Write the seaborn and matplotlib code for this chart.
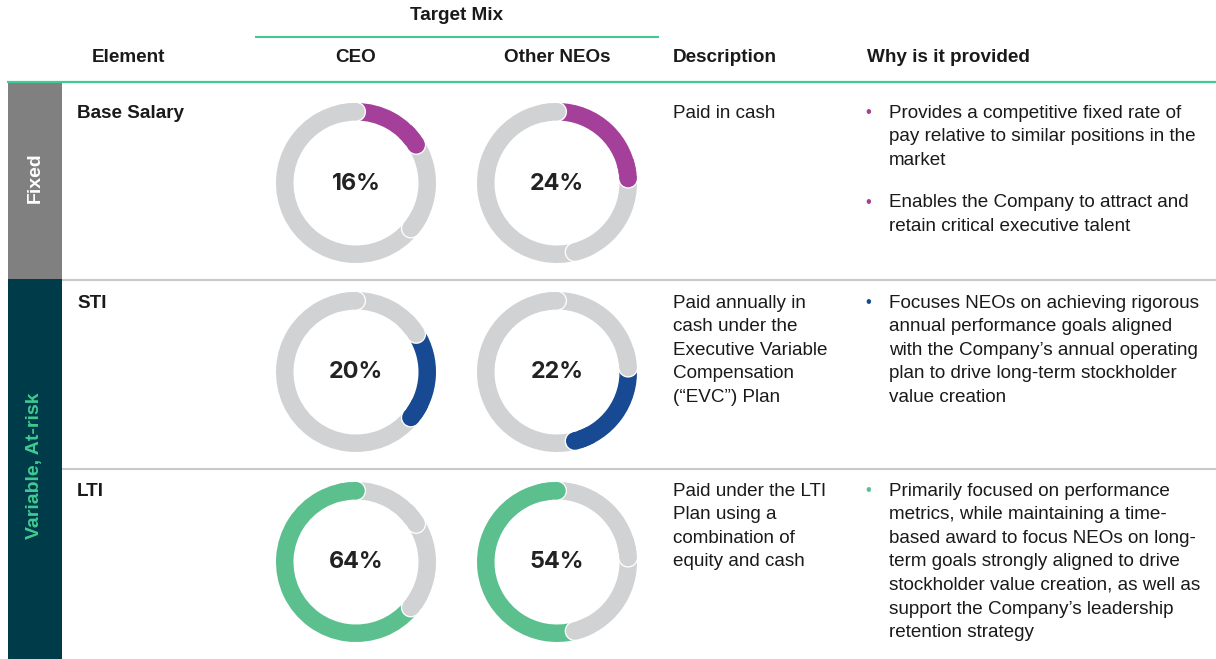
import numpy as np
import matplotlib
matplotlib.use("Agg")
import matplotlib.pyplot as plt
import seaborn as sns
from matplotlib.patches import Wedge, Circle, Rectangle

# ---------------- data ----------------
elements = ["Base Salary", "STI", "LTI"]
ceo_mix = [16, 20, 64]
neo_mix = [24, 22, 54]
groups = ["Fixed", "Variable, At-risk"]
headers = ["Element", "CEO", "Other NEOs", "Description", "Why is it provided"]
super_header = "Target Mix"

descriptions = [
    ["Paid in cash"],
    ["Paid annually in", "cash under the", "Executive Variable", "Compensation", "(\u201cEVC\u201d) Plan"],
    ["Paid under the LTI", "Plan using a", "combination of", "equity and cash"],
]
reasons = [
    [["Provides a competitive fixed rate of", "pay relative to similar positions in the", "market"],
     ["Enables the Company to attract and", "retain critical executive talent"]],
    [["Focuses NEOs on achieving rigorous", "annual performance goals aligned",
      "with the Company\u2019s annual operating", "plan to drive long-term stockholder",
      "value creation"]],
    [["Primarily focused on performance", "metrics, while maintaining a time-",
      "based award to focus NEOs on long-", "term goals strongly aligned to drive",
      "stockholder value creation, as well as", "support the Company\u2019s leadership",
      "retention strategy"]],
]

# ---------------- style ----------------
sns.set_theme(style="white")
plt.rcParams['font.family'] = ['Liberation Sans', 'DejaVu Sans']

PURPLE = "#a5409a"
BLUE = "#174a93"
GREEN = "#5bc08d"
LINE_GREEN = "#3fcb92"
DONUT_GRAY = "#d1d2d4"
SEP_GRAY = "#c9c9c9"
TEAL = "#003b4a"
SIDE_GRAY = "#808080"
TXT = "#1a1a1a"
highlight = sns.color_palette([PURPLE, BLUE, GREEN])

fig = plt.figure(figsize=(12.16, 6.59), dpi=100)
ax = fig.add_axes([0, 0, 1, 1])
ax.set_xlim(0, 1216)
ax.set_ylim(659, 0)
ax.axis('off')

FS = 13.6

# header
ax.text(457, 15, super_header, ha='center', va='center', fontsize=FS, fontweight='bold', color=TXT)
ax.plot([255, 659], [37, 37], color=LINE_GREEN, lw=1.5, solid_capstyle='butt')
hx = [128, 356, 557, 673, 867]
hal = ['center', 'center', 'center', 'left', 'left']
for h, x, a in zip(headers, hx, hal):
    ax.text(x, 58, h, ha=a, va='center', fontsize=FS, fontweight='bold', color=TXT)
ax.plot([7, 1216], [81.5, 81.5], color=LINE_GREEN, lw=1.6, solid_capstyle='butt')

# side bars
ax.add_patch(Rectangle((8, 83), 54, 196, facecolor=SIDE_GRAY, edgecolor='none'))
ax.add_patch(Rectangle((8, 279), 54, 381, facecolor=TEAL, edgecolor='none'))
ax.text(35, 178, groups[0], rotation=90, ha='center', va='center', fontsize=14,
        fontweight='bold', color='white')
ax.text(35, 466, groups[1], rotation=90, ha='center', va='center', fontsize=14,
        fontweight='bold', color=LINE_GREEN)

# separators
for y in [279.5, 468.5]:
    ax.plot([62, 1216], [y, y], color=SEP_GRAY, lw=1.5, solid_capstyle='butt')

row_top = [113, 303, 491]
donut_cy = [183, 372, 562]
LH = 23.6


def donut(cx, cy, values, hi, hicol):
    R, W = 80, 17.5
    rm = R - W / 2
    total = float(sum(values))
    start = -90.0
    segs = []
    for i, v in enumerate(values):
        a0 = start
        a1 = start + 360.0 * v / total
        col = hicol if i == hi else DONUT_GRAY
        ax.add_patch(Wedge((cx, cy), R, a0, a1, width=W, facecolor=col, edgecolor='none', zorder=2))
        segs.append((a1, col))
        start = a1
    for a1, col in segs:
        ex = cx + rm * np.cos(np.radians(a1))
        ey = cy + rm * np.sin(np.radians(a1))
        ax.add_patch(Circle((ex, ey), W / 2 + 1.3, facecolor='white', edgecolor='none', zorder=3))
        ax.add_patch(Wedge((cx, cy), R, a1 - 14, a1, width=W, facecolor=col, edgecolor='none', zorder=4))
        ax.add_patch(Circle((ex, ey), W / 2, facecolor=col, edgecolor='none', zorder=5))
    ax.text(cx, cy + 0.5, f"{values[hi]}%", ha='center', va='center', fontsize=16.8,
            fontweight='bold', color='#222222', family=['Inter', 'DejaVu Sans'], zorder=6)


for r, el in enumerate(elements):
    y0 = row_top[r]
    col = highlight[r]
    ax.text(77, y0, el, ha='left', va='center', fontsize=FS, fontweight='bold', color=TXT)
    donut(356, donut_cy[r], ceo_mix, r, col)
    donut(557, donut_cy[r], neo_mix, r, col)
    for i, line in enumerate(descriptions[r]):
        ax.text(673, y0 + i * LH, line, ha='left', va='center', fontsize=FS, color=TXT)
    y = y0
    for b in reasons[r]:
        ax.text(868, y, "\u2022", ha='center', va='center', fontsize=12, color=col)
        for line in b:
            ax.text(889, y, line, ha='left', va='center', fontsize=FS, color=TXT)
            y += LH
        y += 19

fig.savefig("out.png", dpi=100)
